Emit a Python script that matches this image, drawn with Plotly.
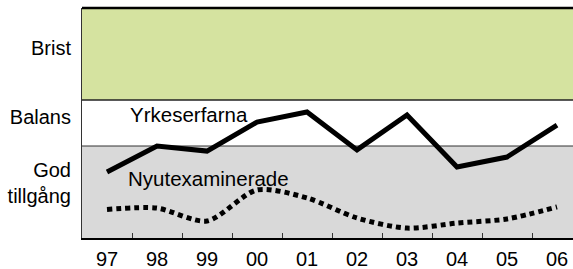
import plotly.graph_objects as go

years = ["97", "98", "99", "00", "01", "02", "03", "04", "05", "06"]
yrkeserfarna = [2.87, 4.00, 3.78, 5.04, 5.48, 3.83, 5.35, 3.09, 3.52, 4.91]
nyutexaminerade = [1.24, 1.30, 0.74, 2.09, 1.74, 0.87, 0.43, 0.65, 0.83, 1.35]

band_labels = ["God<br>tillgång", "Balans", "Brist"]
band_label_pos = [2.4, 5.26, 8.28]
bands = [(0, 4, "rgb(217,217,217)"), (4, 6, "white"), (6, 10, "rgb(213,227,160)")]

FONT = "Liberation Sans, Arial, Helvetica, sans-serif"

fig = go.Figure()
fig.add_trace(go.Scatter(x=years, y=yrkeserfarna, mode="lines",
                         line=dict(color="black", width=5), hoverinfo="skip"))
fig.add_trace(go.Scatter(x=years, y=nyutexaminerade, mode="lines",
                         line=dict(color="black", width=5, dash="5px,4px",
                                   shape="spline", smoothing=0.8),
                         hoverinfo="skip"))

shapes = []
for y0, y1, c in bands:
    shapes.append(dict(type="rect", xref="paper", yref="y", x0=0, x1=1, y0=y0, y1=y1,
                       fillcolor=c, line=dict(width=0), layer="below"))
shapes.append(dict(type="line", xref="paper", yref="y", x0=0, x1=1, y0=6, y1=6,
                   line=dict(color="#222", width=1.5), layer="below"))
shapes.append(dict(type="line", xref="paper", yref="y", x0=0, x1=1, y0=4, y1=4,
                   line=dict(color="#333", width=1), layer="below"))
shapes.append(dict(type="line", xref="paper", yref="paper", x0=0, x1=1, y0=1, y1=1,
                   line=dict(color="black", width=2.5)))

fig.update_layout(
    width=573, height=269,
    margin=dict(l=82, r=0, t=8, b=31, autoexpand=False),
    paper_bgcolor="white", plot_bgcolor="white",
    showlegend=False,
    font=dict(family=FONT, size=20, color="black"),
    shapes=shapes,
    annotations=[
        dict(text="Yrkeserfarna", x=0.42, y=5.39, xref="x", yref="y",
             xanchor="left", yanchor="middle", showarrow=False,
             font=dict(size=20.5)),
        dict(text="Nyutexaminerade", x=0.38, y=2.58, xref="x", yref="y",
             xanchor="left", yanchor="middle", showarrow=False,
             font=dict(size=20.5)),
    ],
    xaxis=dict(type="category", range=[-0.5, 9.32], tickson="boundaries",
               ticks="inside", ticklen=5, tickwidth=1, tickcolor="#333",
               showgrid=False, showline=True, linecolor="black", linewidth=1.5,
               zeroline=False, tickfont=dict(size=20), fixedrange=True,
               automargin=False, ticklabelstandoff=2),
    yaxis=dict(range=[0, 10], tickvals=band_label_pos, ticktext=band_labels,
               ticks="", showgrid=False, zeroline=False, showline=True,
               linecolor="#333", linewidth=1, ticklabelstandoff=6,
               tickfont=dict(size=20), fixedrange=True, automargin=False),
)

fig.write_html(
    "out.html",
    config={"displayModeBar": False, "staticPlot": True},
    post_script="document.body.style.margin='0';document.body.style.overflow='hidden';",
)
